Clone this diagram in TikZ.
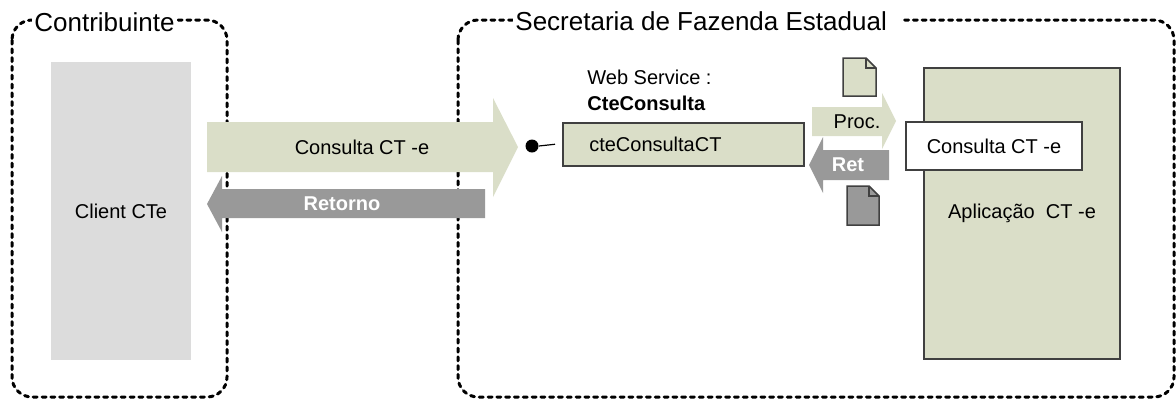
\documentclass[tikz,border=0pt]{standalone}
\usepackage{fontspec}
\setmainfont{Liberation Sans}
\definecolor{ctegreen}{RGB}{218,222,200}
\definecolor{ctegray}{RGB}{153,153,153}
\definecolor{cteclient}{RGB}{220,220,220}
\definecolor{cteborder}{RGB}{64,64,64}
\begin{document}
\begin{tikzpicture}[x=0.5pt, y=-0.5pt, font=\fontsize{10}{13}\selectfont,
        zone/.style={line width=1.5pt, dash pattern=on 2pt off 2.4pt, line cap=round, rounded corners=10pt},
        zonelabel/.style={fill=white, inner xsep=1pt, inner ysep=0pt, anchor=west, font=\fontsize{13}{15}\selectfont},
        box/.style={draw=cteborder, line width=0.75pt, inner sep=0pt},
        doc/.style={draw=cteborder, line width=0.75pt}]
        \useasboundingbox (0,0) rectangle (1176,398);

        % zonas
        \draw[zone] (12,20) rectangle (227,397);
        \draw[zone] (458,20) rectangle (1174,397);
        \node[zonelabel] (contrib) at (32,22) {Contribuinte};
        \node[zonelabel] (sefaz) at (513,21) {Secretaria de Fazenda Estadual\kern6pt};

        % contribuinte
        \node[fill=cteclient, inner sep=0pt, minimum width=70pt, minimum height=149pt] (client) at (121,211) {Client CTe};

        % setas entre contribuinte e sefaz
        \fill[ctegreen] (207,122) -- (493,122) -- (493,98) -- (518,147) -- (493,197) -- (493,172) -- (207,172) -- cycle;
        \node (consulta) at (362,147) {Consulta CT -e};
        \fill[ctegray] (485,189) -- (222,189) -- (222,176) -- (207,204) -- (222,232) -- (222,218) -- (485,218) -- cycle;
        \node[text=white, font=\fontsize{10}{13}\selectfont\bfseries] (retorno) at (342,204) {Retorno};

        % web service
        \node[anchor=west, align=left, inner sep=0pt] (wslabel) at (587,90) {Web Service :\\\textbf{CteConsulta}};
        \node[box, fill=ctegreen, anchor=north west, minimum height=21.5pt, text width=94pt, inner xsep=13.25pt, align=left] (ws) at (562,122) {cteConsultaCT};
        \node[circle, fill, inner sep=0pt, minimum size=6.5pt] (ep) at (532,146) {};
        \draw[line width=0.6pt] (ep.east) -- ([xshift=-3.5pt]ws.west);

        % proc. / ret
        \fill[ctegreen] (812,107) -- (882,107) -- (882,93) -- (896,121) -- (882,149) -- (882,136) -- (812,136) -- cycle;
        \node (proc) at (857,122) {Proc.};
        \fill[ctegray] (889,150) -- (823,150) -- (823,137) -- (809,165) -- (823,193) -- (823,180) -- (889,180) -- cycle;
        \node[text=white, font=\fontsize{10}{13}\selectfont\bfseries] (ret) at (848,165) {Ret};

        % documentos
        \draw[doc, fill=ctegreen] (843,58) -- (866,58) -- (876,68) -- (876,96) -- (843,96) -- cycle;
        \draw[doc] (866,58) -- (866,68) -- (876,68);
        \draw[doc, fill=ctegray] (847,186) -- (869,186) -- (879,196) -- (879,225) -- (847,225) -- cycle;
        \draw[doc] (869,186) -- (869,196) -- (879,196);

        % aplicacao
        \node[box, fill=ctegreen, minimum width=98pt, minimum height=145.5pt] (app) at (1022,213.5) {Aplicação\ \ CT -e};
        \node[box, fill=white, minimum width=88pt, minimum height=24pt] (appconsulta) at (994,146) {Consulta CT -e};
\end{tikzpicture}
\end{document}
